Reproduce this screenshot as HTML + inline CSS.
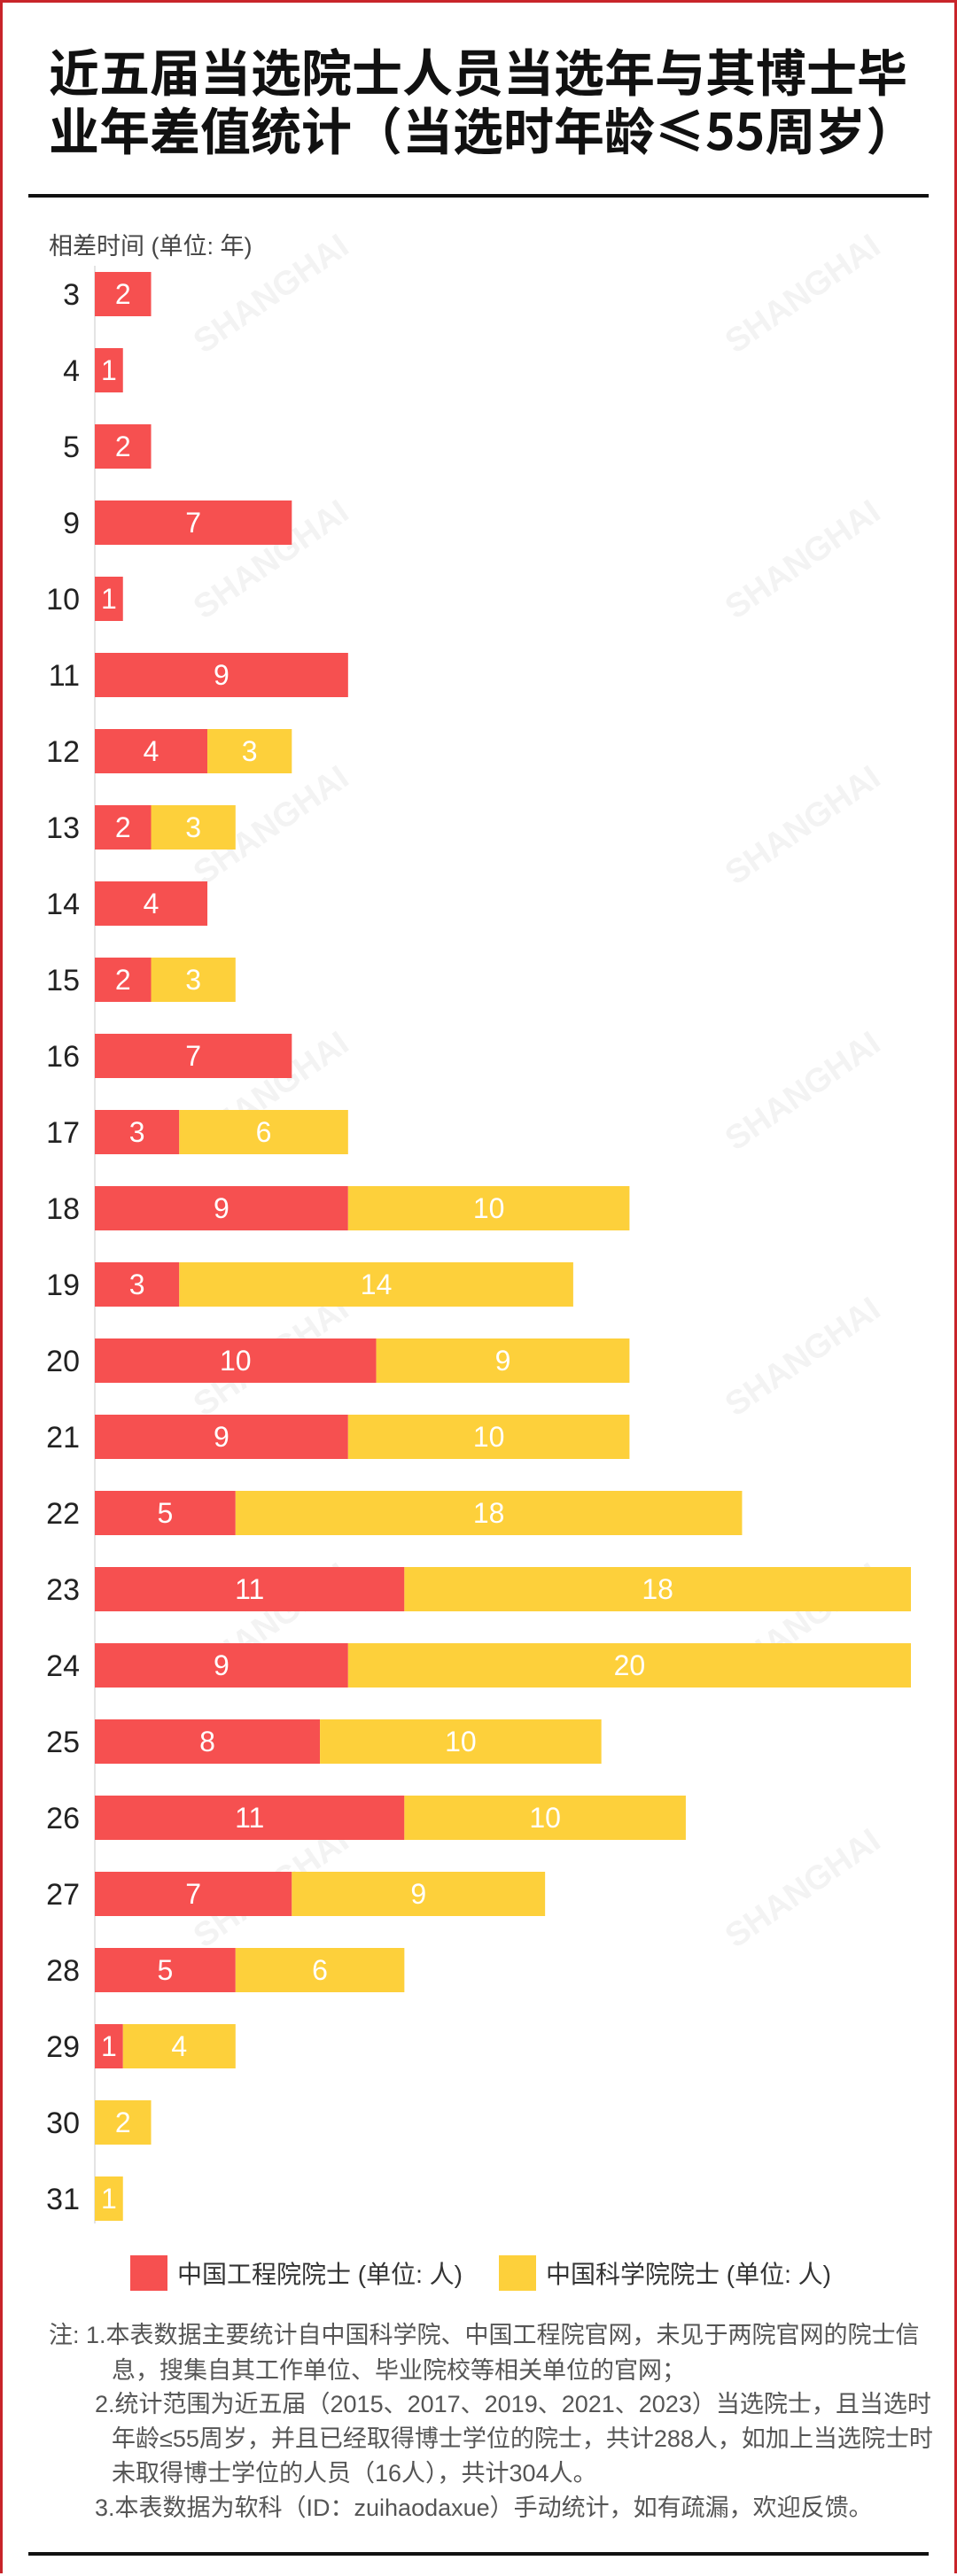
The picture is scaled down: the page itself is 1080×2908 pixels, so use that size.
<!DOCTYPE html>
<html><head><meta charset="utf-8">
<style>
html,body{margin:0;padding:0;background:#fff;}
body{width:1080px;height:2908px;position:relative;overflow:hidden;font-family:"Liberation Sans","Noto Sans CJK SC",sans-serif;}
.frame{position:absolute;left:0;top:0;width:1074px;height:2902px;border:3px solid #c8242a;border-bottom:none;}
.title{position:absolute;left:55px;top:46px;font-size:57px;font-weight:bold;line-height:66px;color:#111;white-space:nowrap;font-family:"Noto Sans CJK SC",sans-serif;}
.rule{position:absolute;left:32px;width:1016px;height:4px;background:#111;}
.note{position:absolute;font-size:27px;color:#555;white-space:nowrap;font-family:"Liberation Sans","Noto Sans CJK SC",sans-serif;}
</style></head><body>
<div class="frame"></div>
<div class="title">近五届当选院士人员当选年与其博士毕<br>业年差值统计（当选时年龄≤55周岁）</div>
<div class="rule" style="top:219px"></div>
<svg id="chart" width="1080" height="2600" style="position:absolute;left:0;top:0"></svg>
<div class="note" style="left:55px;top:2614px">注: 1.本表数据主要统计自中国科学院、中国工程院官网，未见于两院官网的院士信</div>
<div class="note" style="left:126px;top:2654px">息，搜集自其工作单位、毕业院校等相关单位的官网；</div>
<div class="note" style="left:107px;top:2692px">2.统计范围为近五届（2015、2017、2019、2021、2023）当选院士，且当选时</div>
<div class="note" style="left:126px;top:2731px">年龄≤55周岁，并且已经取得博士学位的院士，共计288人，如加上当选院士时</div>
<div class="note" style="left:126px;top:2770px">未取得博士学位的人员（16人），共计304人。</div>
<div class="note" style="left:107px;top:2809px">3.本表数据为软科（ID：zuihaodaxue）手动统计，如有疏漏，欢迎反馈。</div>
<div class="rule" style="top:2881px"></div>
<script>
const categories=[3,4,5,9,10,11,12,13,14,15,16,17,18,19,20,21,22,23,24,25,26,27,28,29,30,31];
const engValues=[2,1,2,7,1,9,4,2,4,2,7,3,9,3,10,9,5,11,9,8,11,7,5,1,0,0];
const sciValues=[0,0,0,0,0,0,3,3,0,3,0,6,10,14,9,10,18,18,20,10,10,9,6,4,2,1];
const seriesNames=["中国工程院院士 (单位: 人)","中国科学院院士 (单位: 人)"];
const RED="#f65050",YEL="#fdd03b";
const x0=107,unit=(1028-107)/29,y0=332,step=86,bh=50;
const xs=v=>x0+v*unit, yc=i=>y0+i*step;
const svg=document.getElementById('chart');
const NS="http://www.w3.org/2000/svg";
function mk(t,a){const e=document.createElementNS(NS,t);for(const k in a)e.setAttribute(k,a[k]);svg.appendChild(e);return e;}
for(let r=0;r<7;r++)for(let c=0;c<2;c++){
 const g=mk('text',{x:0,y:0,'font-size':38,'font-weight':'bold',fill:'#f3f3f3','font-family':'Liberation Sans, sans-serif',transform:`translate(${230+c*600},${400+r*300}) rotate(-35)`});
 g.textContent='SHANGHAI';
 
 
}
const axis=mk('line',{x1:x0,x2:x0,y1:300,y2:2510,stroke:'#e4e4e4','stroke-width':2});


const at=mk('text',{x:55,y:287,'font-size':27,fill:'#444','font-family':'Liberation Sans, Noto Sans CJK SC, sans-serif'});
at.textContent='相差时间 (单位: 年)';


categories.forEach((c,i)=>{
 const y=yc(i);
 const l=mk('text',{x:90,y:y+12,'font-size':34,fill:'#222','text-anchor':'end','font-family':'Liberation Sans, sans-serif'});
 l.textContent=c;
 
 
 const e=engValues[i],s=sciValues[i];
 if(e>0){
  const r=mk('rect',{x:xs(0),y:y-bh/2,width:xs(e)-xs(0),height:bh,fill:RED});
  
  
  const t=mk('text',{x:(xs(0)+xs(e))/2,y:y+11,'font-size':32,fill:'#fff','text-anchor':'middle','font-family':'Liberation Sans, sans-serif'});
  t.textContent=e;
  
  
 }
 if(s>0){
  const r=mk('rect',{x:xs(e),y:y-bh/2,width:xs(e+s)-xs(e),height:bh,fill:YEL});
  
  
  const t=mk('text',{x:(xs(e)+xs(e+s))/2,y:y+11,'font-size':32,fill:'#fff','text-anchor':'middle','font-family':'Liberation Sans, sans-serif'});
  t.textContent=s;
  
  
 }
});
[[147,RED],[563,YEL]].forEach((p,k)=>{
 const r=mk('rect',{x:p[0],y:2546,width:42,height:40,fill:p[1]});
 
 
 const t=mk('text',{x:p[0]+53,y:2577,'font-size':28,fill:'#333','font-family':'Liberation Sans, Noto Sans CJK SC, sans-serif'});
 t.textContent=seriesNames[k];
 
 
});
</script>
</body></html>
